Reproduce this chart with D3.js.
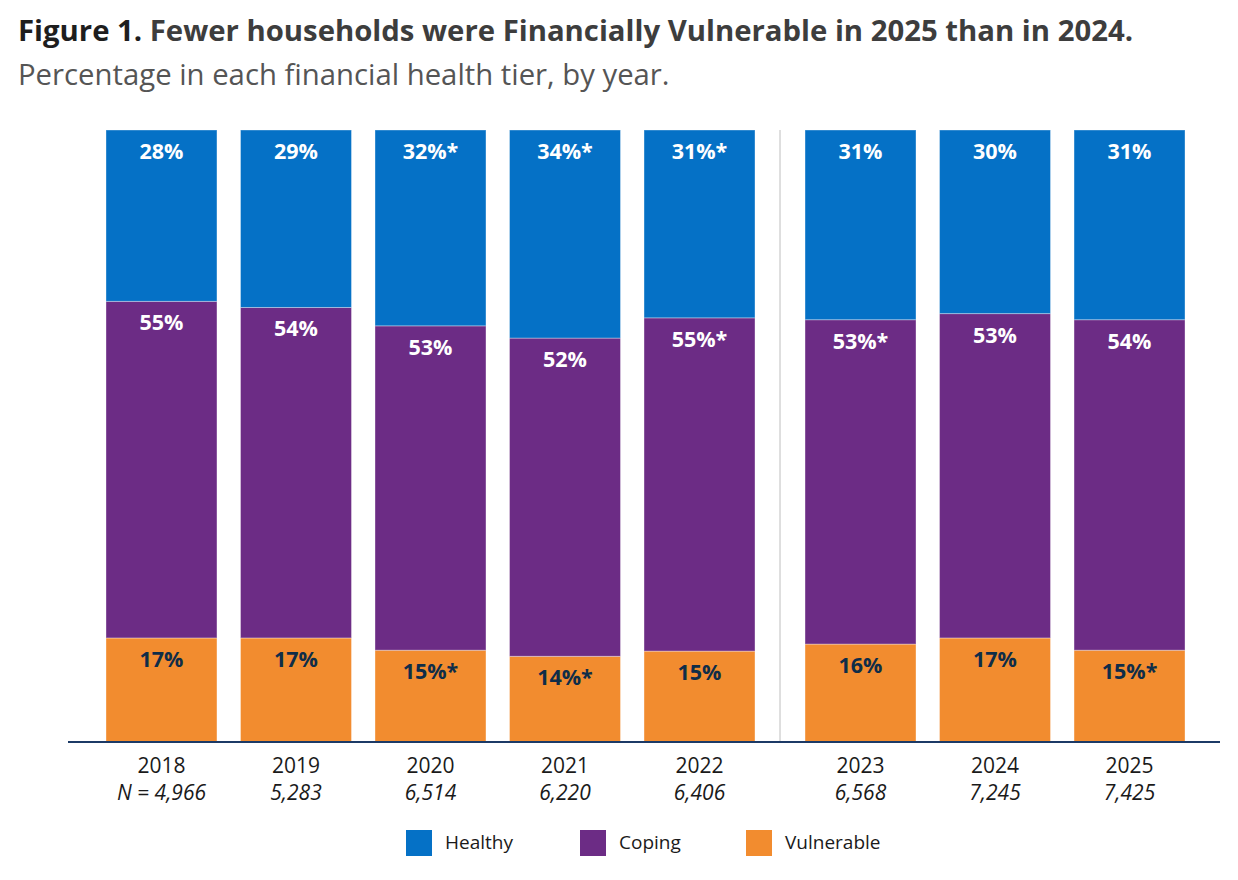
<!doctype html>
<html lang="en">
<head>
	<meta charset="UTF-8">
	<title>Figure 1</title>
	<script src="https://d3js.org/d3.v7.min.js"></script>
	<style>
		body { margin: 0; background: #fff; font-family: 'Open Sans', sans-serif; }
	</style>
</head>
<body>
	<div id="chart"></div>
	<script>
		// ---- data ----
		var years = ['2018', '2019', '2020', '2021', '2022', '2023', '2024', '2025']
		var sampleSizes = ['N = 4,966', '5,283', '6,514', '6,220', '6,406', '6,568', '7,245', '7,425']
		var healthy = [28, 29, 32, 34, 31, 31, 30, 31]
		var coping = [55, 54, 53, 52, 55, 53, 53, 54]
		var vulnerable = [17, 17, 15, 14, 15, 16, 17, 15]
		var healthyLabels = ['28%', '29%', '32%*', '34%*', '31%*', '31%', '30%', '31%']
		var copingLabels = ['55%', '54%', '53%', '52%', '55%*', '53%*', '53%', '54%']
		var vulnerableLabels = ['17%', '17%', '15%*', '14%*', '15%', '16%', '17%', '15%*']
		var tiers = ['Healthy', 'Coping', 'Vulnerable']

		var w = 1238, h = 880
		var colors = { Healthy: '#0571c6', Coping: '#6c2c85', Vulnerable: '#f28c2f' }
		var labelColors = { Healthy: '#ffffff', Coping: '#ffffff', Vulnerable: '#0f2d48' }
		var labelText = { Healthy: healthyLabels, Coping: copingLabels, Vulnerable: vulnerableLabels }

		var svg = d3.select('#chart').append('svg')
			.attr('width', w)
			.attr('height', h)

		// title
		var title = svg.append('text')
			.attr('x', 18).attr('y', 41)
			.style('font-size', '29.3px')
			.style('font-weight', 700)
			.attr('fill', '#3d3d3d')
		title.append('tspan').attr('fill', '#1e1e1e').text('Figure 1. ')
		title.append('tspan').text('Fewer households were Financially Vulnerable in 2025 than in 2024.')

		svg.append('text')
			.attr('x', 18).attr('y', 85)
			.style('font-size', '29.3px')
			.attr('fill', '#555555')
			.text('Percentage in each financial health tier, by year.')

		// table for the stack
		var table = years.map(function (y, i) {
			return { year: y, i: i, Healthy: healthy[i], Coping: coping[i], Vulnerable: vulnerable[i] }
		})
		var series = d3.stack()
			.keys(['Vulnerable', 'Coping', 'Healthy'])
			.offset(d3.stackOffsetExpand)(table)

		// scales
		var gap = 26.5  // extra space between 2022 and 2023
		var x = d3.scaleBand()
			.domain(years)
			.range([106, 1158.5])
			.paddingInner(0.175)
			.paddingOuter(0)
		function xPos(year) {
			return x(year) + (years.indexOf(year) >= 5 ? gap : 0)
		}
		var y = d3.scaleLinear().domain([0, 1]).range([742, 130])

		// separator between 2022 and 2023
		var sepX = (xPos('2022') + x.bandwidth() + xPos('2023')) / 2
		svg.append('line')
			.attr('x1', sepX).attr('x2', sepX)
			.attr('y1', y(1)).attr('y2', y(0))
			.attr('stroke', '#d4d4d4')
			.attr('stroke-width', 1.5)

		// bars
		var groups = svg.selectAll('g.tier')
			.data(series)
			.join('g')
			.attr('class', 'tier')
			.attr('fill', function (s) { return colors[s.key] })

		groups.selectAll('rect')
			.data(function (s) { return s })
			.join('rect')
			.attr('x', function (d) { return xPos(d.data.year) })
			.attr('y', function (d) { return y(d[1]) })
			.attr('width', x.bandwidth())
			.attr('height', function (d) { return y(d[0]) - y(d[1]) })
			.attr('stroke', 'rgba(255,255,255,0.35)')
			.attr('stroke-width', 1)

		// value labels
		series.forEach(function (s) {
			svg.append('g').selectAll('text')
				.data(s)
				.join('text')
				.attr('x', function (d) { return xPos(d.data.year) + x.bandwidth() / 2 })
				.attr('y', function (d) { return y(d[1]) + 29 })
				.attr('text-anchor', 'middle')
				.style('font-size', '21.5px')
				.style('font-weight', 700)
				.attr('fill', labelColors[s.key])
				.text(function (d) { return labelText[s.key][d.data.i] })
		})

		// baseline
		svg.append('line')
			.attr('x1', 68).attr('x2', 1220)
			.attr('y1', y(0)).attr('y2', y(0))
			.attr('stroke', '#1c3a66')
			.attr('stroke-width', 2)

		// year and N labels
		var xl = svg.append('g')
		xl.selectAll('text.year')
			.data(years)
			.join('text')
			.attr('class', 'year')
			.attr('x', function (d) { return xPos(d) + x.bandwidth() / 2 })
			.attr('y', 773)
			.attr('text-anchor', 'middle')
			.style('font-size', '21px')
			.attr('fill', '#1a1a1a')
			.text(function (d) { return d })
		xl.selectAll('text.n')
			.data(sampleSizes)
			.join('text')
			.attr('class', 'n')
			.attr('x', function (d, i) { return xPos(years[i]) + x.bandwidth() / 2 })
			.attr('y', 800)
			.attr('text-anchor', 'middle')
			.style('font-size', '21px')
			.style('font-style', 'italic')
			.attr('fill', '#1a1a1a')
			.text(function (d) { return d })

		// legend
		var legendX = [406, 580, 746]
		var legend = svg.append('g').selectAll('g')
			.data(tiers)
			.join('g')
			.attr('transform', function (d, i) { return 'translate(' + legendX[i] + ',830)' })
		legend.append('rect')
			.attr('width', 26).attr('height', 26)
			.attr('fill', function (d) { return colors[d] })
		legend.append('text')
			.attr('x', 39).attr('y', 19)
			.style('font-size', '19px')
			.attr('fill', '#1a1a1a')
			.text(function (d) { return d })
	</script>
</body>
</html>
